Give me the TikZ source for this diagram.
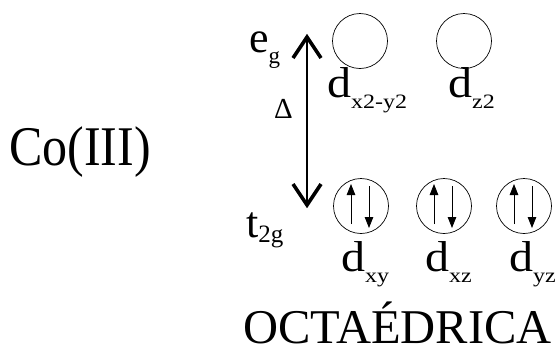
\documentclass[tikz,border=0pt]{standalone}
\usepackage{fontspec}
\setmainfont{Liberation Serif}
\usetikzlibrary{arrows.meta}
\newcommand{\fsz}[1]{\fontsize{#1}{#1}\selectfont}
\newcommand{\dd}[1]{\scalebox{1}[0.9]{\fsz{48}d}\raisebox{-11pt}{\scalebox{1}[0.85]{\fsz{24}#1}}}
\begin{document}
\begin{tikzpicture}[x=1pt,y=-1pt,
  lbl/.style={anchor=base west,inner sep=0pt},
  orb/.style={draw,circle,minimum size=55pt,inner sep=0pt,line width=0.7pt},
  spin/.style={line width=0.8pt,-{Triangle[length=11pt,width=8.5pt]}},
  shaft/.style={line width=2pt},
  chev/.style={line width=3.6pt,line cap=butt,line join=miter}]
\useasboundingbox (0,0) rectangle (560,354);
% texts
\node[lbl] (co) at (9,165) {\scalebox{1}[1.12]{\fsz{50}Co(III)}};
\node[lbl] (eg) at (249,52) {\fsz{44}e\raisebox{-11pt}{\fsz{23}g}};
\node[lbl] (delta) at (274,118) {\fsz{29}Δ};
\node[lbl] (t2g) at (246,237) {\fsz{44}t\raisebox{-5pt}{\fsz{25}2g}};
\node[lbl] (oct) at (243,343) {\fsz{48.5}OCTAÉDRICA};
% orbitals
\node[orb] (o1) at (360,41) {};
\node[orb] (o2) at (464,41) {};
\node[orb] (o3) at (361,206) {};
\node[orb] (o4) at (444,206) {};
\node[orb] (o5) at (524,206) {};
\node[lbl] (l1) at (327,97) {\dd{x2-y2}};
\node[lbl] (l2) at (448,97) {\dd{z2}};
\node[lbl] (l3) at (341,271) {\dd{xy}};
\node[lbl] (l4) at (425,271) {\dd{xz}};
\node[lbl] (l5) at (509,271) {\dd{yz}};
% spins
\foreach \o in {o3,o4,o5}{
  \draw[spin] ([xshift=-10pt,yshift=-18pt]\o.center) -- ([xshift=-10pt,yshift=22pt]\o.center);
  \draw[spin] ([xshift=8pt,yshift=20pt]\o.center) -- ([xshift=8pt,yshift=-22pt]\o.center);
}
% delta arrow
\coordinate (top) at (307,37);
\coordinate (bot) at (307,205);
\draw[shaft] (top) -- (bot);
\draw[chev] ([xshift=-14pt,yshift=-21pt]top) -- (top) -- ([xshift=14pt,yshift=-21pt]top);
\draw[chev] ([xshift=-14pt,yshift=21pt]bot) -- (bot) -- ([xshift=14pt,yshift=21pt]bot);
\end{tikzpicture}
\end{document}
